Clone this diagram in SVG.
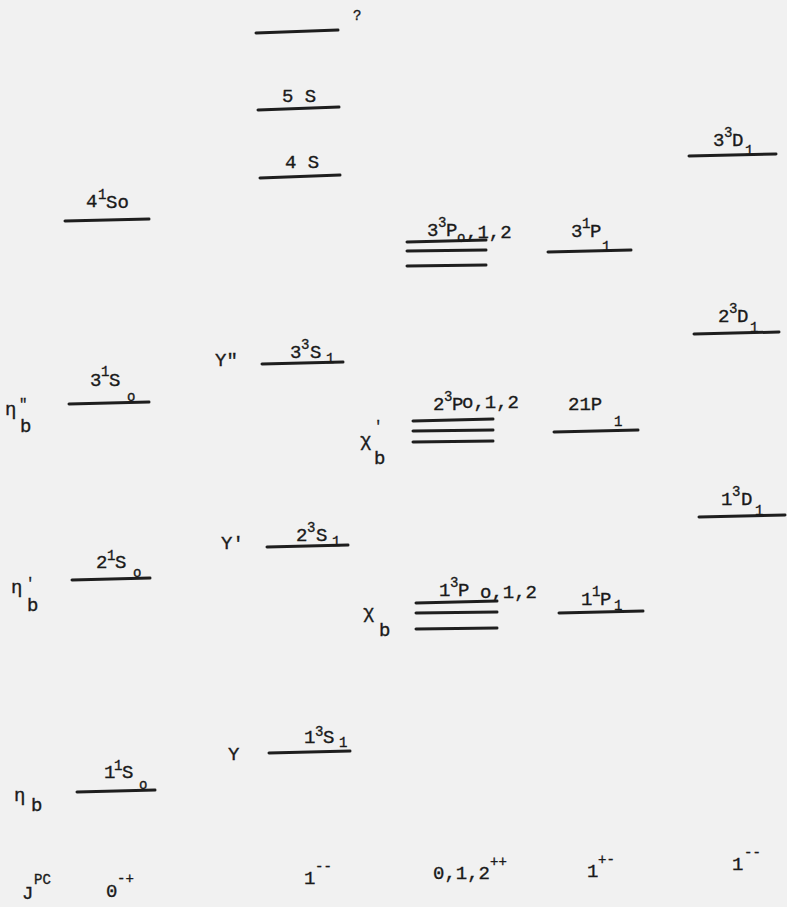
<svg xmlns="http://www.w3.org/2000/svg" width="787" height="907" viewBox="0 0 787 907">
<style>
.bg{fill:#f1f1f1}
.lv{stroke:#1e1e1e;stroke-width:3;stroke-linecap:round;fill:none}
text{font-family:"Liberation Mono","DejaVu Sans Mono",monospace;fill:#1a1a1a;stroke:#1a1a1a;stroke-width:0.35}
.m{font-size:19px}
.s{font-size:14px}
</style>
<rect class="bg" x="0" y="0" width="787" height="907"/>
<g id="connectors"/>
<g id="level-unknown">
<line class="lv" x1="256" y1="33" x2="338" y2="30"/>
<text class="s" x="353" y="20">?</text>
</g>
<g id="level-5S">
<line class="lv" x1="258" y1="110" x2="339" y2="107"/>
<text class="m" x="282" y="102">5 S</text>
</g>
<g id="level-4S">
<line class="lv" x1="260" y1="178" x2="340" y2="175"/>
<text class="m" x="285" y="168">4 S</text>
</g>
<g id="level-33S1">
<line class="lv" x1="262" y1="364" x2="343" y2="362"/>
<text class="m" x="215" y="366">Υ"</text>
<text class="m" x="290" y="358">3</text><text class="s" x="301" y="349">3</text><text class="m" x="310" y="358">S</text><text class="s" x="326" y="363">1</text>
</g>
<g id="level-23S1">
<line class="lv" x1="267" y1="547" x2="348" y2="545"/>
<text class="m" x="221" y="549">Υ'</text>
<text class="m" x="296" y="541">2</text><text class="s" x="307" y="532">3</text><text class="m" x="316" y="541">S</text><text class="s" x="332" y="546">1</text>
</g>
<g id="level-13S1">
<line class="lv" x1="269" y1="753" x2="350" y2="751"/>
<text class="m" x="228" y="760">Υ</text>
<text class="m" x="304" y="743">1</text><text class="s" x="315" y="736">3</text><text class="m" x="323" y="743">S</text><text class="s" x="339" y="747">1</text>
</g>
<g id="level-41S0">
<line class="lv" x1="65" y1="221" x2="149" y2="219"/>
<text class="m" x="86" y="207">4</text><text class="s" x="98" y="199">1</text><text class="m" x="106" y="208">So</text>
</g>
<g id="level-31S0">
<line class="lv" x1="69" y1="404" x2="149" y2="402"/>
<text class="m" x="5" y="415">η</text><text class="s" x="19" y="409">"</text><text class="m" x="20" y="432">b</text>
<text class="m" x="90" y="386">3</text><text class="s" x="101" y="376">1</text><text class="m" x="109" y="386">S</text><text class="s" x="127" y="401">o</text>
</g>
<g id="level-21S0">
<line class="lv" x1="72" y1="580" x2="150" y2="578"/>
<text class="m" x="11" y="593">η</text><text class="s" x="26" y="588">'</text><text class="m" x="27" y="611">b</text>
<text class="m" x="96" y="568">2</text><text class="s" x="107" y="560">1</text><text class="m" x="115" y="568">S</text><text class="s" x="133" y="577">o</text>
</g>
<g id="level-11S0">
<line class="lv" x1="77" y1="792" x2="155" y2="790"/>
<text class="m" x="14" y="801">η</text><text class="m" x="31" y="811">b</text>
<text class="m" x="104" y="778">1</text><text class="s" x="114" y="770">1</text><text class="m" x="122" y="778">S</text><text class="s" x="139" y="789">o</text>
</g>
<g id="level-33PJ">
<line class="lv" x1="407" y1="242" x2="486" y2="240"/>
<line class="lv" x1="407" y1="251" x2="486" y2="250"/>
<line class="lv" x1="407" y1="266" x2="486" y2="265"/>
<text class="m" x="427" y="236">3</text><text class="s" x="438" y="227">3</text><text class="m" x="446" y="236">P</text><text class="s" x="457" y="242">o</text><text class="m" x="466" y="238">,1,2</text>
</g>
<g id="level-23PJ">
<line class="lv" x1="413" y1="421" x2="493" y2="419"/>
<line class="lv" x1="413" y1="431" x2="493" y2="430"/>
<line class="lv" x1="413" y1="442" x2="493" y2="441"/>
<text class="m" x="360" y="446">χ</text><text class="s" x="374" y="431">'</text><text class="m" x="374" y="464">b</text>
<text class="m" x="433" y="410">2</text><text class="s" x="444" y="401">3</text><text class="m" x="452" y="410">P</text><text class="m" x="462" y="408">o,1,2</text>
</g>
<g id="level-13PJ">
<line class="lv" x1="416" y1="603" x2="497" y2="601"/>
<line class="lv" x1="416" y1="613" x2="497" y2="612"/>
<line class="lv" x1="416" y1="629" x2="497" y2="628"/>
<text class="m" x="363" y="618">χ</text><text class="m" x="379" y="636">b</text>
<text class="m" x="439" y="596">1</text><text class="s" x="450" y="587">3</text><text class="m" x="458" y="596">P</text><text class="m" x="480" y="598">o,1,2</text>
</g>
<g id="level-31P1">
<line class="lv" x1="548" y1="252" x2="631" y2="250"/>
<text class="m" x="571" y="237">3</text><text class="s" x="582" y="228">1</text><text class="m" x="590" y="237">P</text><text class="s" x="602" y="251">1</text>
</g>
<g id="level-21P1">
<line class="lv" x1="554" y1="432" x2="638" y2="430"/>
<text class="m" x="568" y="410">21P</text><text class="s" x="614" y="426">1</text>
</g>
<g id="level-11P1">
<line class="lv" x1="559" y1="613" x2="643" y2="611"/>
<text class="m" x="581" y="605">1</text><text class="s" x="592" y="596">1</text><text class="m" x="600" y="605">P</text><text class="s" x="614" y="610">1</text>
</g>
<g id="level-33D1">
<line class="lv" x1="689" y1="156" x2="776" y2="154"/>
<text class="m" x="713" y="146">3</text><text class="s" x="724" y="137">3</text><text class="m" x="732" y="146">D</text><text class="s" x="745" y="155">1</text>
</g>
<g id="level-23D1">
<line class="lv" x1="694" y1="334" x2="779" y2="332"/>
<text class="m" x="718" y="322">2</text><text class="s" x="729" y="313">3</text><text class="m" x="737" y="322">D</text><text class="s" x="750" y="332">1</text>
</g>
<g id="level-13D1">
<line class="lv" x1="699" y1="517" x2="785" y2="515"/>
<text class="m" x="721" y="505">1</text><text class="s" x="732" y="496">3</text><text class="m" x="741" y="505">D</text><text class="s" x="755" y="515">1</text>
</g>
<g id="jpc-row">
<text class="m" x="22" y="899">J</text><text class="s" x="34" y="884">PC</text>
<text class="m" x="106" y="897">0</text><text class="s" x="117" y="883">-+</text>
<text class="m" x="304" y="884">1</text><text class="s" x="315" y="871">--</text>
<text class="m" x="433" y="879">0,1,2</text><text class="s" x="490" y="866">++</text>
<text class="m" x="587" y="877">1</text><text class="s" x="598" y="864">+-</text>
<text class="m" x="732" y="870">1</text><text class="s" x="744" y="857">--</text>
</g>
</svg>
